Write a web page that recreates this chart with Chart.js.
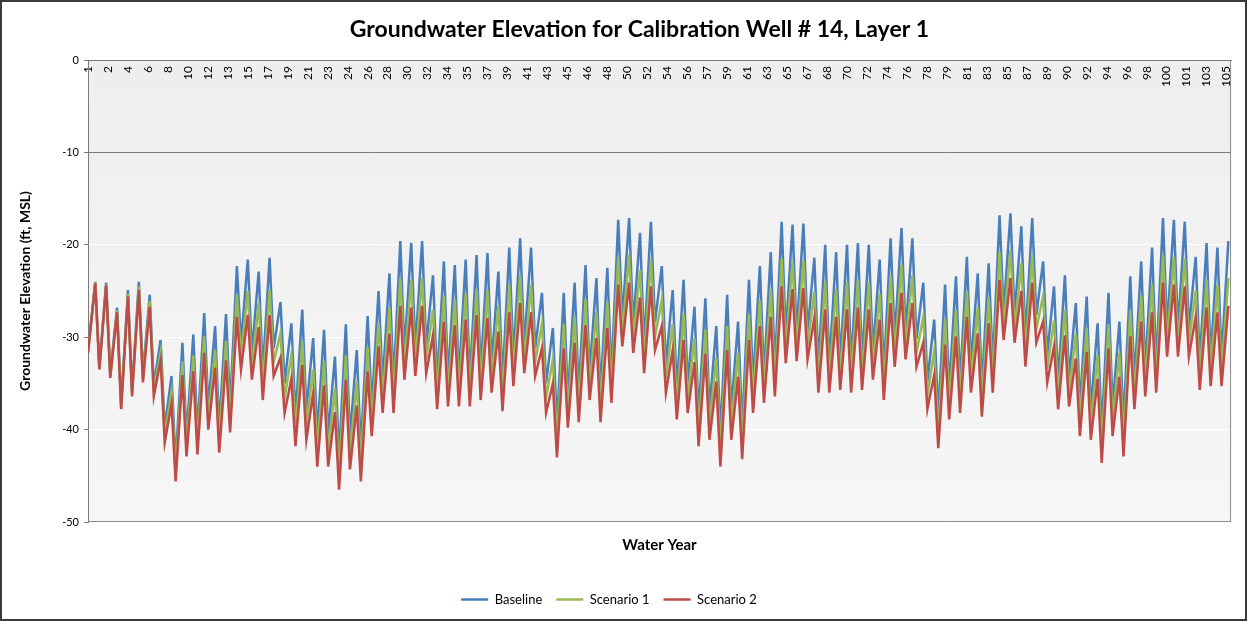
<!DOCTYPE html>
<html><head><meta charset="utf-8">
<script src="https://cdn.jsdelivr.net/npm/chart.js@4.4.1/dist/chart.umd.min.js"></script>
<style>html,body{margin:0;padding:0;background:#fff;}#wrap{width:1247px;height:621px;}</style>
</head><body><div id="wrap"><canvas id="c" width="1247" height="621"></canvas></div>
<script>
// Water-year tick labels shown along the top axis
const xTickLabels = ['1','2','4','6','8','10','12','13','15','17','19','21','23','24','26','28','30','32','34','35','37','39','41','43','45','46','48','50','52','54','56','57','59','61','63','65','67','68','70','72','74','76','78','79','81','83','85','87','89','90','92','94','96','98','100','101','103','105'];

// Yearly high (spring peak) and low (trough before the peak) elevations, ft MSL, water years 1..105
const baselinePeak = [-24.0,-24.1,-26.8,-24.9,-24.0,-25.4,-30.3,-34.2,-30.6,-29.7,
 -27.4,-28.8,-27.5,-22.3,-21.6,-22.9,-21.4,-26.2,-28.5,-27.0,
 -30.1,-29.2,-32.1,-28.6,-31.4,-27.7,-25.0,-23.1,-19.6,-19.8,
 -19.6,-23.3,-21.8,-22.2,-21.6,-21.1,-20.9,-22.9,-20.3,-19.3,
 -20.3,-25.2,-29.0,-25.2,-24.1,-22.2,-23.6,-22.5,-17.3,-17.1,
 -18.7,-17.5,-22.3,-24.9,-23.8,-26.7,-25.8,-28.8,-25.4,-28.3,
 -23.8,-22.3,-20.8,-17.5,-17.8,-17.7,-21.4,-20.0,-20.8,-20.0,
 -19.8,-20.0,-21.6,-19.3,-18.2,-19.3,-24.1,-28.1,-24.3,-23.4,
 -21.3,-23.1,-22.0,-16.8,-16.6,-18.0,-17.1,-21.8,-24.5,-23.3,
 -26.3,-25.6,-28.5,-25.2,-28.3,-23.4,-21.8,-20.3,-17.1,-17.3,
 -17.5,-21.3,-19.8,-20.3,-19.6];
const baselineTrough = [-31.5,-33.2,-34.0,-37.3,-35.7,-34.0,-35.2,-39.8,-43.6,-40.7,
 -40.3,-37.5,-39.8,-37.5,-30.7,-31.7,-33.8,-31.2,-35.0,-38.6,
 -37.9,-40.5,-40.5,-43.0,-40.8,-42.1,-37.5,-35.0,-35.0,-31.6,
 -31.2,-30.9,-34.8,-34.5,-34.5,-34.5,-33.8,-33.0,-34.8,-32.3,
 -30.9,-31.2,-35.0,-39.5,-36.6,-36.0,-33.8,-36.0,-34.1,-28.0,
 -28.7,-30.9,-28.4,-33.0,-35.7,-35.0,-38.6,-37.9,-40.5,-37.9,
 -39.7,-35.0,-34.1,-33.4,-29.8,-29.6,-29.4,-33.0,-33.0,-32.7,
 -33.0,-32.7,-31.6,-33.8,-30.2,-29.4,-30.2,-34.8,-38.5,-35.7,
 -35.0,-33.0,-35.4,-33.0,-27.3,-27.6,-30.2,-27.6,-31.9,-34.8,
 -34.5,-37.5,-37.9,-40.1,-37.5,-39.4,-34.8,-33.4,-33.0,-29.1,
 -29.1,-29.1,-32.7,-32.3,-32.3];
const scenario1Peak = [-24.1,-24.3,-27.1,-25.3,-24.5,-26.1,-31.6,-35.9,-32.6,-32.0,
 -29.9,-31.4,-30.4,-25.4,-25.0,-26.3,-24.9,-29.6,-31.9,-30.4,
 -33.5,-32.6,-35.5,-32.0,-34.8,-31.1,-28.4,-26.8,-23.6,-23.8,
 -23.6,-27.0,-25.5,-25.9,-25.3,-24.8,-24.9,-26.6,-24.3,-23.3,
 -24.3,-28.6,-32.4,-28.6,-27.8,-25.9,-27.3,-26.2,-21.3,-21.1,
 -22.7,-21.5,-26.0,-28.6,-27.5,-30.1,-29.2,-32.2,-28.8,-31.7,
 -27.5,-26.0,-24.8,-21.5,-21.8,-21.7,-25.1,-24.0,-24.8,-24.0,
 -23.8,-24.0,-25.3,-23.3,-22.2,-23.3,-27.8,-31.5,-28.0,-27.1,
 -25.0,-26.8,-25.7,-20.8,-20.6,-22.0,-21.1,-25.5,-28.2,-27.0,
 -29.7,-29.0,-31.9,-28.6,-31.7,-27.1,-25.5,-24.3,-21.1,-21.3,
 -21.5,-25.0,-23.8,-24.3,-23.6];
const scenario1Trough = [-31.6,-33.4,-34.2,-37.6,-36.1,-34.5,-35.8,-40.6,-44.6,-41.8,
 -41.5,-38.8,-41.2,-38.9,-32.1,-33.2,-35.3,-32.7,-36.6,-40.2,
 -39.5,-42.3,-42.3,-44.8,-42.6,-43.9,-39.1,-36.6,-36.6,-33.1,
 -32.7,-32.4,-36.3,-36.0,-36.0,-36.0,-35.3,-34.5,-36.4,-33.8,
 -32.4,-32.7,-36.6,-41.3,-38.2,-37.6,-35.3,-37.6,-35.6,-29.5,
 -30.2,-32.4,-29.9,-34.5,-37.3,-36.6,-40.2,-39.5,-42.3,-39.5,
 -41.5,-36.6,-35.6,-34.9,-31.3,-31.1,-30.9,-34.5,-34.5,-34.2,
 -34.5,-34.2,-33.1,-35.3,-31.7,-30.9,-31.7,-36.3,-40.3,-37.3,
 -36.6,-34.5,-37.0,-34.5,-28.8,-29.1,-31.7,-29.1,-33.4,-36.3,
 -36.0,-39.1,-39.5,-41.9,-39.1,-41.2,-36.3,-34.9,-34.5,-30.6,
 -30.6,-30.6,-34.2,-33.8,-33.8];
const scenario2Peak = [-24.2,-24.4,-27.3,-25.6,-24.9,-26.7,-32.5,-37.2,-34.1,-33.7,
 -31.7,-33.3,-32.5,-27.8,-27.6,-28.9,-27.6,-32.2,-34.5,-33.0,
 -36.1,-35.2,-38.1,-34.6,-37.4,-33.7,-31.0,-29.6,-26.6,-26.8,
 -26.6,-29.8,-28.3,-28.7,-28.1,-27.6,-27.9,-29.4,-27.3,-26.3,
 -27.3,-31.2,-35.0,-31.2,-30.6,-28.7,-30.1,-29.0,-24.3,-24.1,
 -25.7,-24.5,-28.8,-31.4,-30.3,-32.7,-31.8,-34.8,-31.4,-34.3,
 -30.3,-28.8,-27.8,-24.5,-24.8,-24.7,-27.9,-27.0,-27.8,-27.0,
 -26.8,-27.0,-28.1,-26.3,-25.2,-26.3,-30.6,-34.1,-30.8,-29.9,
 -27.8,-29.6,-28.5,-23.8,-23.6,-25.0,-24.1,-28.3,-31.0,-29.8,
 -32.3,-31.6,-34.5,-31.2,-34.3,-29.9,-28.3,-27.3,-24.1,-24.3,
 -24.5,-27.8,-26.8,-27.3,-26.6];
const scenario2Trough = [-31.7,-33.5,-34.4,-37.8,-36.4,-34.9,-36.4,-41.4,-45.6,-42.9,
 -42.7,-40.0,-42.5,-40.3,-33.5,-34.6,-36.8,-34.2,-38.2,-41.8,
 -41.1,-44.0,-44.0,-46.5,-44.3,-45.6,-40.7,-38.2,-38.2,-34.6,
 -34.2,-33.9,-37.8,-37.5,-37.5,-37.5,-36.8,-36.0,-38.0,-35.3,
 -33.9,-34.2,-38.2,-43.0,-39.8,-39.2,-36.8,-39.2,-37.1,-31.0,
 -31.7,-33.9,-31.4,-36.0,-38.9,-38.2,-41.8,-41.1,-44.0,-41.1,
 -43.2,-38.2,-37.1,-36.4,-32.8,-32.6,-32.4,-36.0,-36.0,-35.7,
 -36.0,-35.7,-34.6,-36.8,-33.2,-32.4,-33.2,-37.8,-42.0,-38.9,
 -38.2,-36.0,-38.6,-36.0,-30.3,-30.6,-33.2,-30.6,-34.9,-37.8,
 -37.5,-40.7,-41.1,-43.6,-40.7,-42.9,-37.8,-36.4,-36.0,-32.1,
 -32.1,-32.1,-35.7,-35.3,-35.3];

const seriesNames = ['Baseline','Scenario 1','Scenario 2'];
const seriesColors = ['#4A7EBB','#98B954','#BE4B48'];

// monthly position along the axis (month index from start of record)
function buildSeries(troughs, peaks) {
  const pts = [];
  for (let i = 0; i < peaks.length; i++) {
    pts.push({x: i * 12 + (i === 0 ? 0 : 0.5), y: troughs[i]});
    pts.push({x: i * 12 + 8, y: peaks[i]});
  }
  return pts;
}

const FONT = 'Lato';
const bgPlugin = {
  id: 'bg',
  beforeDraw(chart) {
    const {ctx, chartArea: a, width, height} = chart;
    ctx.save();
    ctx.fillStyle = '#fff'; ctx.fillRect(0, 0, width, height);
    const g = ctx.createLinearGradient(0, a.top, 0, a.bottom);
    g.addColorStop(0, '#eeeeee'); g.addColorStop(1, '#f6f6f6');
    ctx.fillStyle = g; ctx.fillRect(a.left, a.top, a.right - a.left, a.bottom - a.top);
    ctx.strokeStyle = '#3a3a3a'; ctx.lineWidth = 2; ctx.strokeRect(1, 1, width - 2, height - 2);
    ctx.restore();
  },
  beforeDatasetsDraw(chart) {
    const {ctx, chartArea: a} = chart;
    ctx.save(); ctx.strokeStyle = '#8a8a8a'; ctx.lineWidth = 1;
    ctx.beginPath();
    ctx.moveTo(a.right - 0.5, a.top); ctx.lineTo(a.right - 0.5, a.bottom);
    ctx.moveTo(a.left, a.bottom - 0.5); ctx.lineTo(a.right, a.bottom - 0.5);
    ctx.stroke(); ctx.restore();
  },
  afterLayout(chart) {
    if (chart.titleBlock) { chart.titleBlock.left += 42; }
    if (chart.legend) { chart.legend.left -= 19; }
  }
};

new Chart(document.getElementById('c'), {
  type: 'line',
  data: {
    datasets: [
      {label: seriesNames[0], data: buildSeries(baselineTrough, baselinePeak), borderColor: seriesColors[0], backgroundColor: seriesColors[0], borderWidth: 2.5, pointRadius: 0, order: 3},
      {label: seriesNames[1], data: buildSeries(scenario1Trough, scenario1Peak), borderColor: seriesColors[1], backgroundColor: seriesColors[1], borderWidth: 2.5, pointRadius: 0, order: 2},
      {label: seriesNames[2], data: buildSeries(scenario2Trough, scenario2Peak), borderColor: seriesColors[2], backgroundColor: seriesColors[2], borderWidth: 2.5, pointRadius: 0, order: 1}
    ]
  },
  options: {
    responsive: false, animation: false, devicePixelRatio: 1, events: [],
    layout: {padding: {left: 0, right: 10, top: 0, bottom: 5}},
    plugins: {
      title: {display: true, text: 'Groundwater Elevation for Calibration Well # 14, Layer 1',
        font: {family: FONT, size: 23, weight: 'bold'}, color: '#000', padding: {top: 16.2, bottom: 16.2}},
      legend: {position: 'bottom', labels: {usePointStyle: true, pointStyle: 'line', pointStyleWidth: 27, boxHeight: 13,
        font: {family: FONT, size: 13}, color: '#000', padding: 14, sort: (a, b) => a.datasetIndex - b.datasetIndex}},
      tooltip: {enabled: false}
    },
    scales: {
      x: {type: 'linear', position: {y: 0}, min: 0, max: 1259,
        grid: {display: false, drawTicks: false},
        border: {display: true, color: '#7a7a7a', width: 1},
        ticks: {autoSkip: false, minRotation: 90, maxRotation: 90, padding: 6,
          font: {family: FONT, size: 12}, color: '#000', callback: (v, i) => xTickLabels[i]},
        afterBuildTicks: s => { s.ticks = xTickLabels.map((_, k) => ({value: k * 22})); }
      },
      xTitle: {type: 'linear', axis: 'x', position: 'bottom', min: 0, max: 1259,
        grid: {display: false, drawTicks: false}, border: {display: false}, ticks: {display: false},
        title: {display: true, text: 'Water Year', font: {family: FONT, size: 15, weight: 'bold'}, color: '#000', padding: {top: 0, bottom: 25}},
        afterFit: s => { s.height = 57; }
      },
      y: {min: -50, max: 0,
        ticks: {stepSize: 10, font: {family: FONT, size: 11}, color: '#000', padding: 5},
        grid: {color: c => (c.tick && c.tick.value === -10) ? '#7a7a7a' : 'rgba(255,255,255,0.95)', tickLength: 4, tickColor: '#7a7a7a'},
        border: {display: true, color: '#7a7a7a'},
        title: {display: true, text: 'Groundwater Elevation (ft, MSL)', font: {family: FONT, size: 14, weight: 'bold'}, color: '#000', padding: {top: 17, bottom: 0}},
        afterFit: s => { s.width = 88; }
      }
    }
  },
  plugins: [bgPlugin]
});
</script>
</body></html>
